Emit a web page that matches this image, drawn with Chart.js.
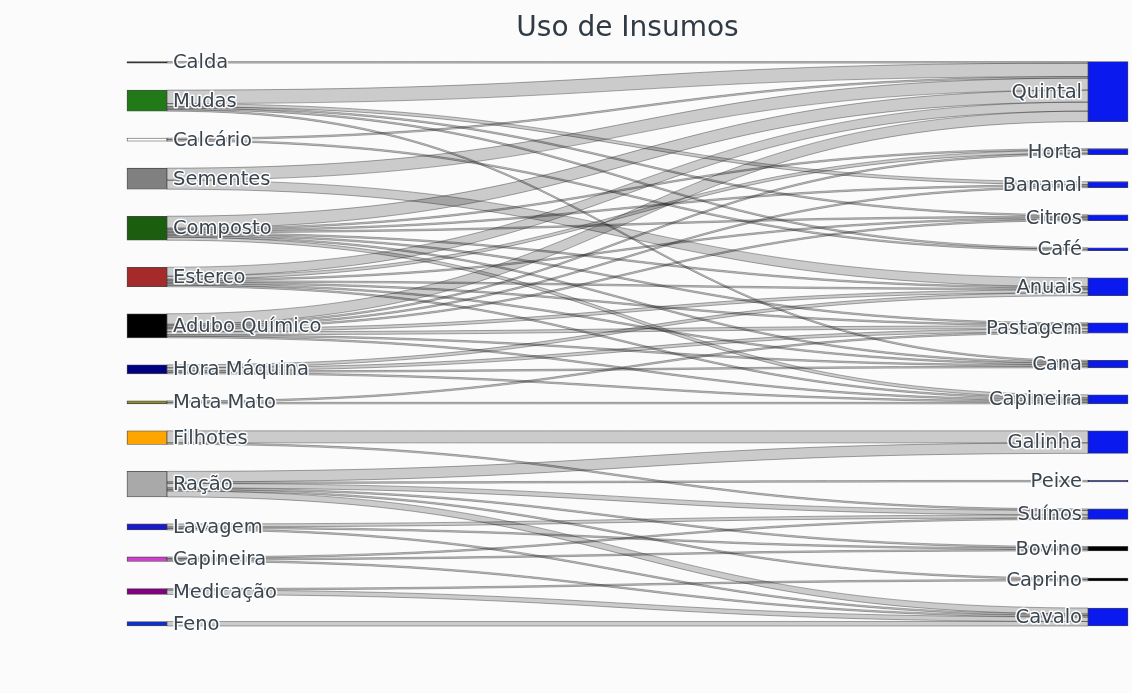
<!DOCTYPE html>
<html><head><meta charset="utf-8">
<script src="https://cdn.jsdelivr.net/npm/chart.js@4"></script>
<style>html,body{margin:0;padding:0;background:#fbfbfb;}#wrap{width:1132px;height:693px;}</style>
</head><body><div id="wrap"><canvas id="c" width="1132" height="693"></canvas></div>
<script>
const chartTitle = 'Uso de Insumos';
const sourceNodes = ['Calda','Mudas','Calcário','Sementes','Composto','Esterco','Adubo Químico','Hora Máquina','Mata Mato','Filhotes','Ração','Lavagem','Capineira','Medicação','Feno'];
const targetNodes = ['Quintal','Horta','Bananal','Citros','Café','Anuais','Pastagem','Cana','Capineira','Galinha','Peixe','Suínos','Bovino','Caprino','Cavalo'];
const sourceColors = ['#000000','#217a17','#ffffff','#808080','#1b5e10','#a52a2a','#000000','#000080','#8a8a30','#ffa500','#a9a9a9','#1a1acd','#d23cd2','#800080','#1030c8'];
const targetColors = ['#0a1aee','#0a1aee','#0a1aee','#0a1aee','#0a1aee','#0a1aee','#0a1aee','#0a1aee','#0a1aee','#0a1aee','#000080','#0a1aee','#000000','#000000','#0a1aee'];
const linkSource = [0, 1,1,1,1,1, 2,2, 3,3, 4,4,4,4,4,4,4,4, 5,5,5,5,5,5,5, 6,6,6,6,6,6,6,6, 7,7,7,7, 8,8, 9,9, 10,10,10,10,10,10, 11,11,11, 12,12,12, 13,13, 14];
const linkTarget = [0, 0,2,3,4,7, 0,4, 0,5, 0,1,2,3,5,6,7,8, 0,1,3,5,6,7,8, 0,1,2,3,5,6,7,8, 5,6,7,8, 6,8, 9,11, 9,10,11,12,13,14, 11,12,14, 11,12,14, 13,14, 14];
const linkValue  = [1, 9,2,1,1,1, 1,1, 8,6, 8,1,1,1,1,1,1,2, 6,2,1,1,1,1,1, 7,1,1,1,2,2,1,1, 2,2,1,1, 1,1, 8,1, 7,1,3,1,1,4, 2,1,1, 1,1,1, 1,3, 3];

const NODE_GAP = 18; // vertical padding between nodes, in value units

function columnLayout(count, idxArr) {
  const tot = new Array(count).fill(0);
  idxArr.forEach((n, i) => { tot[n] += linkValue[i]; });
  const pos = []; let y = 0;
  for (let i = 0; i < count; i++) { pos.push([y, y + tot[i]]); y += tot[i] + NODE_GAP; }
  return {tot, pos, end: y - NODE_GAP};
}
const L = columnLayout(sourceNodes.length, linkSource);
const R = columnLayout(targetNodes.length, linkTarget);
const yMax = Math.max(L.end, R.end);

const nodeData = L.pos.map(p => ({x: 0, y: p})).concat(R.pos.map(p => ({x: 1, y: p})));
const nodeColors = sourceColors.concat(targetColors);
const nodeLabels = sourceNodes.concat(targetNodes);

function linkOffsets() {
  const n = linkValue.length;
  const sOff = new Array(n), tOff = new Array(n);
  for (let s = 0; s < sourceNodes.length; s++) {
    const ids = [...Array(n).keys()].filter(i => linkSource[i] === s).sort((a, b) => linkTarget[a] - linkTarget[b]);
    let y = L.pos[s][0];
    ids.forEach(i => { sOff[i] = y; y += linkValue[i]; });
  }
  for (let t = 0; t < targetNodes.length; t++) {
    const ids = [...Array(n).keys()].filter(i => linkTarget[i] === t).sort((a, b) => linkSource[a] - linkSource[b]);
    let y = R.pos[t][0];
    ids.forEach(i => { tOff[i] = y; y += linkValue[i]; });
  }
  return {sOff, tOff};
}
const OFF = linkOffsets();

const FONT = '"DejaVu Sans", Verdana, sans-serif';

const sankeyPlugin = {
  id: 'sankeyLinks',
  beforeDraw(chart) {
    const ctx = chart.ctx;
    ctx.save(); ctx.fillStyle = '#fbfbfb'; ctx.fillRect(0, 0, chart.width, chart.height); ctx.restore();
  },
  beforeDatasetsDraw(chart) {
    const ctx = chart.ctx, ys = chart.scales.y;
    const bars = chart.getDatasetMeta(0).data;
    const nS = sourceNodes.length;
    ctx.save();
    for (let i = 0; i < linkValue.length; i++) {
      const sb = bars[linkSource[i]], tb = bars[nS + linkTarget[i]];
      const x0 = sb.x + sb.width / 2, x1 = tb.x - tb.width / 2, xm = (x0 + x1) / 2;
      const s0 = ys.getPixelForValue(OFF.sOff[i]), s1 = ys.getPixelForValue(OFF.sOff[i] + linkValue[i]);
      const t0 = ys.getPixelForValue(OFF.tOff[i]), t1 = ys.getPixelForValue(OFF.tOff[i] + linkValue[i]);
      ctx.beginPath();
      ctx.moveTo(x0, s0);
      ctx.bezierCurveTo(xm, s0, xm, t0, x1, t0);
      ctx.lineTo(x1, t1);
      ctx.bezierCurveTo(xm, t1, xm, s1, x0, s1);
      ctx.closePath();
      ctx.fillStyle = 'rgba(0,0,0,0.19)';
      ctx.fill();
      ctx.lineWidth = 0.55;
      ctx.strokeStyle = 'rgba(35,35,35,0.7)';
      ctx.stroke();
    }
    ctx.restore();
  },
  afterDatasetsDraw(chart) {
    const ctx = chart.ctx;
    const bars = chart.getDatasetMeta(0).data;
    const nS = sourceNodes.length;
    ctx.save();
    ctx.font = '19.5px ' + FONT;
    ctx.textBaseline = 'middle';
    ctx.lineJoin = 'round';
    bars.forEach((b, i) => {
      const left = i < nS;
      const x = left ? b.x + b.width / 2 + 6 : b.x - b.width / 2 - 6;
      const y = (b.y + b.base) / 2 + 1;
      ctx.textAlign = left ? 'left' : 'right';
      ctx.strokeStyle = 'rgba(255,255,255,0.95)';
      ctx.lineWidth = 3;
      ctx.strokeText(nodeLabels[i], x, y);
      ctx.fillStyle = '#3a4550';
      ctx.fillText(nodeLabels[i], x, y);
    });
    ctx.restore();
  }
};

new Chart(document.getElementById('c'), {
  type: 'bar',
  data: {
    labels: nodeLabels,
    datasets: [{
      data: nodeData,
      backgroundColor: nodeColors,
      borderColor: 'rgba(40,40,40,0.85)',
      borderWidth: 0.8,
      borderSkipped: false,
      barThickness: 40,
      clip: false
    }]
  },
  options: {
    responsive: false,
    animation: false,
    devicePixelRatio: 1,
    layout: {padding: {left: 147, right: 24, top: 0, bottom: 67}},
    plugins: {
      legend: {display: false},
      tooltip: {enabled: false},
      title: {display: true, text: chartTitle, color: '#2f3a44',
        font: {family: FONT, size: 28, weight: 'normal'}, padding: {top: 12, bottom: 16}}
    },
    scales: {
      x: {type: 'linear', min: 0, max: 1, offset: false, display: false},
      y: {min: 0, max: yMax, reverse: true, display: false}
    }
  },
  plugins: [sankeyPlugin]
});
</script>
</body></html>
